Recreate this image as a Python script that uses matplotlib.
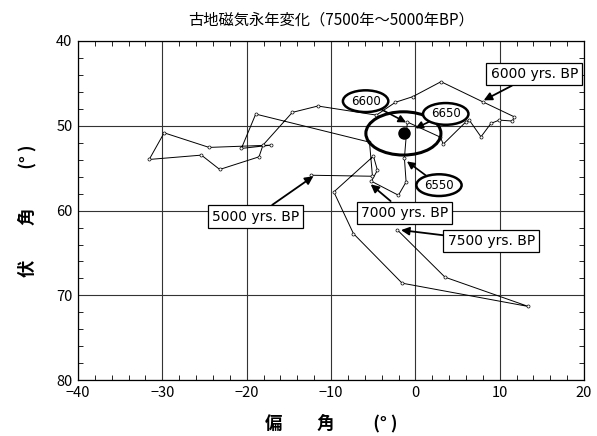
import matplotlib
matplotlib.use("Agg")
import matplotlib.pyplot as plt
from matplotlib.patches import Ellipse
from matplotlib.ticker import MultipleLocator

plt.rcParams['font.family'] = ['Noto Sans CJK JP', 'DejaVu Sans']

# Path of the virtual pole (declination, inclination), 7500 -> 5000 yrs BP
declination = [-2.17, 3.51, 13.41, -1.57, -7.34, -9.67, -4.97, -4.50, -5.21, -2.01,
               -1.10, -1.30, -0.95, 2.96, 3.31, 6.00, 6.39, 7.78, 8.96, 9.94,
               11.51, 11.72, 7.96, 3.04, -0.32, -2.37, -4.62, -11.56, -14.59, -18.07,
               -18.54, -23.20, -25.37, -31.56, -29.79, -24.46, -17.08, -20.63, -18.93, -5.44,
               -5.09, -12.43]
inclination = [62.25, 67.85, 71.31, 68.56, 62.72, 57.80, 53.58, 55.24, 56.54, 58.19,
               56.62, 53.82, 49.56, 51.34, 52.16, 49.53, 49.33, 51.30, 49.72, 49.33,
               49.44, 48.94, 47.16, 44.80, 46.57, 47.23, 48.74, 47.67, 48.42, 52.28,
               53.66, 55.15, 53.46, 53.97, 50.83, 52.55, 52.28, 52.67, 48.62, 51.93,
               55.95, 55.83]

mean_point = (-1.30, 50.83)
ellipse_center = (-1.42, 50.9)
ellipse_size = (8.9, 5.1)

xticks = [-40, -30, -20, -10, 0, 10, 20]
yticks = [40, 50, 60, 70, 80]

# annotations: text, label position, arrow target
box_labels = [
    ("6000 yrs. BP", (14.1, 43.9), (8.1, 47.0)),
    ("5000 yrs. BP", (-18.95, 60.7), (-12.1, 55.95)),
    ("7000 yrs. BP", (-1.3, 60.25), (-5.3, 56.9)),
    ("7500 yrs. BP", (9.0, 63.6), (-1.7, 62.3)),
]
oval_labels = [
    ("6600", (-5.9, 47.1), (-1.1, 49.6)),
    ("6650", (3.6, 48.6), (0.0, 50.3)),
    ("6550", (2.8, 57.0), (-1.0, 54.2)),
]

fig = plt.figure(figsize=(5.97, 4.36), dpi=100)
ax = fig.add_axes([0.1307, 0.128, 0.8476, 0.778])

ax.set_xlim(-40, 20)
ax.set_ylim(80, 40)
ax.set_xticks(xticks)
ax.set_yticks(yticks)
ax.xaxis.set_minor_locator(MultipleLocator(2))
ax.yaxis.set_minor_locator(MultipleLocator(2))
ax.tick_params(which='both', direction='in', top=True, right=True, labelsize=10.5, colors='black')
ax.tick_params(which='major', length=0, pad=4)
ax.tick_params(which='minor', length=3.5, width=0.6)
ax.grid(True, which='major', color='#333333', linewidth=0.8)
for s in ax.spines.values():
    s.set_linewidth(0.9)

ax.plot(declination, inclination, color='black', linewidth=0.7, marker='o',
        markersize=2.2, markerfacecolor='white', markeredgewidth=0.5, zorder=3)

ell = Ellipse(ellipse_center, ellipse_size[0], ellipse_size[1], fill=False,
              edgecolor='black', linewidth=2.2, zorder=4)
ax.add_patch(ell)
ax.plot([mean_point[0]], [mean_point[1]], 'o', color='black', markersize=8, zorder=5)

for txt, pos, tgt in box_labels:
    ax.annotate(txt, xy=tgt, xytext=pos, fontsize=10, ha='center', va='center',
                family=['DejaVu Sans'],
                bbox=dict(boxstyle='square,pad=0.3', fc='white', ec='black', lw=0.9),
                arrowprops=dict(arrowstyle='-|>', color='black', lw=1.3,
                                mutation_scale=12, shrinkA=0, shrinkB=0),
                zorder=6)
for txt, pos, tgt in oval_labels:
    ax.annotate(txt, xy=tgt, xytext=pos, fontsize=8.5, ha='center', va='center',
                family=['DejaVu Sans'],
                bbox=dict(boxstyle='ellipse,pad=0.1', fc='white', ec='black', lw=1.8),
                arrowprops=dict(arrowstyle='-|>', color='black', lw=1.2,
                                mutation_scale=11, shrinkA=0, shrinkB=0),
                zorder=6)

ax.set_title('古地磁気永年変化（7500年～5000年BP）', fontsize=11, pad=12)
ax.set_xlabel('偏　　角　　 (° )', fontsize=12.5, fontweight='bold', labelpad=10)
ax.set_ylabel('伏　　角　　 (° )', fontsize=12.5, fontweight='bold', labelpad=14)

fig.savefig('out.png', dpi=100)
